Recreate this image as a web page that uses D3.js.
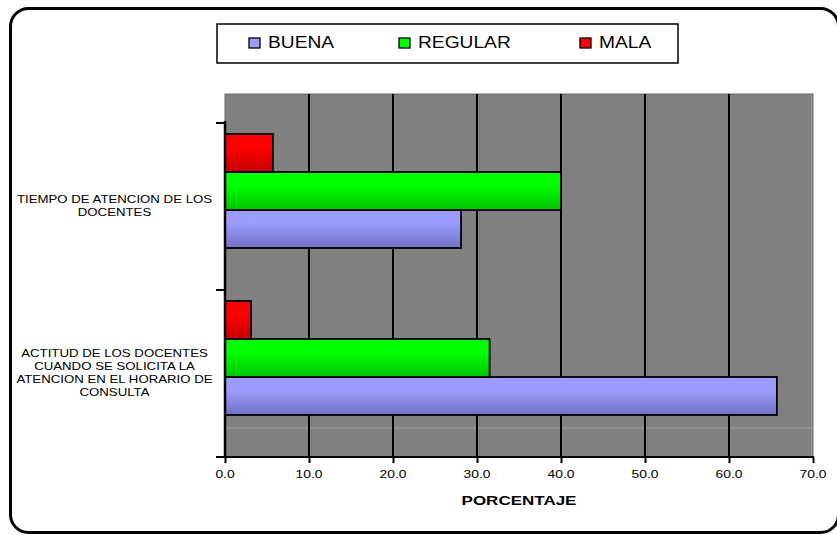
<!DOCTYPE html>
<html>
<head>
<meta charset="utf-8">
<script src="https://cdn.jsdelivr.net/npm/d3@7/dist/d3.min.js"></script>
<style>
  html, body { margin: 0; padding: 0; background: #ffffff; }
  svg { display: block; }
  text { font-family: "Liberation Sans", Arial, sans-serif; fill: #000; }
</style>
</head>
<body>
<svg id="chart" width="837" height="535"></svg>
<script>
// ---- data ----
const categories = ["TIEMPO", "ACTITUD"];
const categoryLabels = [
  ["TIEMPO DE ATENCION DE LOS", "DOCENTES"],
  ["ACTITUD DE LOS DOCENTES", "CUANDO SE SOLICITA LA", "ATENCION EN EL HORARIO DE", "CONSULTA"]
];
const seriesNames = ["BUENA", "REGULAR", "MALA"];
const buena = [28.1, 65.7];
const regular = [40.0, 31.5];
const mala = [5.7, 3.1];
const xTicks = [0, 10, 20, 30, 40, 50, 60, 70];
const axisTitle = "PORCENTAJE";

const seriesValues = { BUENA: buena, REGULAR: regular, MALA: mala };
const colors = {
  BUENA: ["#9c9cff", "#7272c4"],
  REGULAR: ["#00ff00", "#00c400"],
  MALA: ["#ff0000", "#c80000"]
};

const svg = d3.select("#chart");
const STRETCH = 1.26;

// gradients
const defs = svg.append("defs");
seriesNames.forEach(s => {
  const g = defs.append("linearGradient").attr("id", "g" + s)
    .attr("x1", 0).attr("y1", 0).attr("x2", 0).attr("y2", 1);
  g.append("stop").attr("offset", "0%").attr("stop-color", colors[s][0]);
  g.append("stop").attr("offset", "35%").attr("stop-color", colors[s][0]);
  g.append("stop").attr("offset", "100%").attr("stop-color", colors[s][1]);
});

// outer frame
svg.append("rect").attr("x", 10.5).attr("y", 8.5).attr("width", 828).attr("height", 524)
  .attr("rx", 18).attr("ry", 18)
  .attr("fill", "#fff").attr("stroke", "#000").attr("stroke-width", 3);

// scales
const plotL = 225, plotR = 813, plotT = 94, plotB = 457, floorY = 428;
const x = d3.scaleLinear().domain([0, 70]).range([plotL, plotR]);
const yCat = d3.scaleBand().domain(categories).range([123, plotB]).padding(0);
const ySer = d3.scaleBand().domain(["MALA", "REGULAR", "BUENA"]).range([11, 125]).padding(0);

// plot wall
svg.append("rect").attr("x", plotL).attr("y", plotT).attr("width", plotR - plotL).attr("height", plotB - plotT)
  .attr("fill", "#808080").attr("stroke", "#6a6a6a").attr("stroke-width", 1);
svg.append("line").attr("x1", plotL).attr("x2", plotR).attr("y1", floorY).attr("y2", floorY)
  .attr("stroke", "#a2a2a2").attr("stroke-width", 1);
svg.append("line").attr("x1", plotR - 1.5).attr("x2", plotR - 1.5).attr("y1", plotT + 1).attr("y2", plotB)
  .attr("stroke", "#9a9a9a").attr("stroke-width", 1);

// gridlines
svg.append("g").selectAll("line").data(xTicks.slice(1, -1)).join("line")
  .attr("x1", d => x(d)).attr("x2", d => x(d))
  .attr("y1", plotT).attr("y2", plotB)
  .attr("stroke", "#000").attr("stroke-width", 2);

// bars
categories.forEach((c, i) => {
  seriesNames.forEach(s => {
    svg.append("rect")
      .attr("x", x(0)).attr("y", yCat(c) + ySer(s))
      .attr("width", x(seriesValues[s][i]) - x(0)).attr("height", ySer.bandwidth())
      .attr("fill", "url(#g" + s + ")").attr("stroke", "#000").attr("stroke-width", 1.8);
  });
});

// x axis
const xAxis = d3.axisBottom(x).tickValues(xTicks).tickSize(6).tickFormat(d3.format(".1f"));
const gx = svg.append("g").attr("transform", `translate(0,${plotB})`).call(xAxis);
gx.select(".domain").remove();
gx.selectAll(".tick line").attr("stroke", "#000").attr("stroke-width", 2);
gx.selectAll(".tick text").remove();
svg.append("line").attr("x1", 216).attr("x2", plotR + 1).attr("y1", plotB).attr("y2", plotB)
  .attr("stroke", "#000").attr("stroke-width", 2);

// x tick labels (stretched)
xTicks.forEach(t => {
  svg.append("text").attr("transform", `translate(${x(t)},478) scale(${STRETCH},1)`)
    .attr("text-anchor", "middle").attr("font-size", 11).text(d3.format(".1f")(t));
});

// y axis line and ticks at category boundaries
svg.append("line").attr("x1", plotL).attr("x2", plotL).attr("y1", 121).attr("y2", plotB)
  .attr("stroke", "#000").attr("stroke-width", 2.5);
const bounds = categories.map(c => yCat(c)).concat([yCat.range()[1]]);
svg.append("g").selectAll("line").data(bounds).join("line")
  .attr("x1", 216).attr("x2", plotL).attr("y1", d => d).attr("y2", d => d)
  .attr("stroke", "#000").attr("stroke-width", 2);

// category labels
categories.forEach((c, i) => {
  const lines = categoryLabels[i];
  const lh = 12.8;
  const cy = yCat(c) + yCat.bandwidth() / 2 - 1;
  const firstBase = cy - (lines.length - 1) * lh / 2 + 3.8;
  lines.forEach((ln, j) => {
    svg.append("text").attr("transform", `translate(114.5,${firstBase + j * lh}) scale(${STRETCH},1)`)
      .attr("text-anchor", "middle").attr("font-size", 10.5).text(ln);
  });
});

// axis title
svg.append("text").attr("transform", `translate(${(plotL + plotR) / 2},505) scale(${STRETCH},1)`)
  .attr("text-anchor", "middle").attr("font-size", 13.5).attr("font-weight", "bold").text(axisTitle);

// legend
svg.append("rect").attr("x", 217).attr("y", 24).attr("width", 461).attr("height", 39)
  .attr("fill", "#fff").attr("stroke", "#000").attr("stroke-width", 1.5);
const legendX = { BUENA: 249, REGULAR: 399, MALA: 580 };
seriesNames.forEach(s => {
  svg.append("rect").attr("x", legendX[s]).attr("y", 38).attr("width", 11).attr("height", 10)
    .attr("fill", colors[s][0]).attr("stroke", "#000").attr("stroke-width", 1.3);
  svg.append("text").attr("transform", `translate(${legendX[s] + 19},48.3) scale(1.2,1)`)
    .attr("font-size", 16).text(s);
});
</script>
</body>
</html>
